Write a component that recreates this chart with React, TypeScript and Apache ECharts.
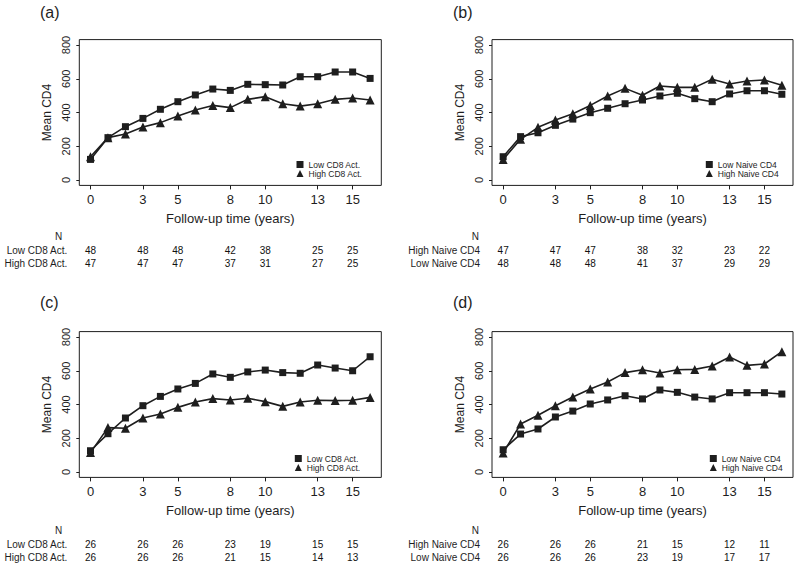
import React, { useEffect, useRef } from "react";
import * as echarts from "echarts";

// ---- data ----
const times = [0, 1, 2, 3, 4, 5, 6, 7, 8, 9, 10, 11, 12, 13, 14, 15, 16];
const xTicks = [0, 3, 5, 8, 10, 13, 15];
const yTicks = [0, 200, 400, 600, 800];
const nTimes = [0, 3, 5, 8, 10, 13, 15];

const aLowCD8 = [122, 251, 316, 365, 419, 464, 504, 539, 531, 567, 565, 563, 612, 612, 640, 640, 602];
const aHighCD8 = [138, 251, 273, 314, 340, 379, 415, 442, 429, 478, 494, 452, 438, 452, 478, 486, 474];
const bLowNaive = [138, 257, 280, 324, 361, 399, 425, 452, 474, 498, 514, 482, 464, 510, 529, 529, 508];
const bHighNaive = [122, 241, 312, 356, 393, 442, 498, 543, 502, 557, 549, 549, 597, 569, 587, 593, 561];
const cLowCD8 = [126, 227, 320, 393, 448, 492, 525, 581, 561, 593, 604, 589, 585, 634, 616, 600, 683];
const cHighCD8 = [115, 263, 259, 320, 344, 383, 415, 435, 427, 437, 417, 389, 415, 425, 423, 425, 442];
const dLowNaive = [132, 225, 255, 326, 361, 403, 427, 452, 433, 486, 472, 444, 433, 470, 470, 470, 462];
const dHighNaive = [113, 284, 336, 393, 444, 492, 533, 589, 606, 587, 606, 608, 628, 681, 632, 640, 713];

const aNLow = [48, 48, 48, 42, 38, 25, 25];
const aNHigh = [47, 47, 47, 37, 31, 27, 25];
const bNHigh = [47, 47, 47, 38, 32, 23, 22];
const bNLow = [48, 48, 48, 41, 37, 29, 29];
const cNLow = [26, 26, 26, 23, 19, 15, 15];
const cNHigh = [26, 26, 26, 21, 15, 14, 13];
const dNHigh = [26, 26, 26, 21, 15, 12, 11];
const dNLow = [26, 26, 26, 23, 19, 17, 17];

const lowCD8 = "Low CD8 Act.";
const highCD8 = "High CD8 Act.";
const lowNaive = "Low Naive CD4";
const highNaive = "High Naive CD4";

const FONT = "'Liberation Sans', Arial, Helvetica, sans-serif";
const INK = "#1e1e1e";

const panels = [
  {
    label: "(a)", labelX: 40, labelY: 13,
    left: 79.3, top: 39.6, width: 302, height: 145.8,
    squareName: lowCD8, square: aLowCD8, triName: highCD8, tri: aHighCD8,
    rows: [lowCD8, highCD8], rowVals: [aNLow, aNHigh], tableTop: 230,
    legendLeft: 296.5, legendTop: 160, nPad: 5,
  },
  {
    label: "(b)", labelX: 453, labelY: 13,
    left: 492, top: 39.6, width: 301, height: 145.8,
    squareName: lowNaive, square: bLowNaive, triName: highNaive, tri: bHighNaive,
    rows: [highNaive, lowNaive], rowVals: [bNHigh, bNLow], tableTop: 230,
    legendLeft: 705.8, legendTop: 160, nPad: 1,
  },
  {
    label: "(c)", labelX: 40, labelY: 303,
    left: 79.3, top: 331.6, width: 302, height: 145.8,
    squareName: lowCD8, square: cLowCD8, triName: highCD8, tri: cHighCD8,
    rows: [lowCD8, highCD8], rowVals: [cNLow, cNHigh], tableTop: 524,
    legendLeft: 294.8, legendTop: 454, nPad: 5,
  },
  {
    label: "(d)", labelX: 453, labelY: 303,
    left: 492, top: 331.6, width: 301, height: 145.8,
    squareName: lowNaive, square: dLowNaive, triName: highNaive, tri: dHighNaive,
    rows: [highNaive, lowNaive], rowVals: [dNHigh, dNLow], tableTop: 524,
    legendLeft: 709.8, legendTop: 454, nPad: 1,
  },
];

function buildOption() {
  const grid: any[] = [];
  const xAxis: any[] = [];
  const yAxis: any[] = [];
  const series: any[] = [];
  const legend: any[] = [];
  const graphic: any[] = [];

  panels.forEach((p, i) => {
    const gMain = 2 * i;
    const gTab = 2 * i + 1;
    grid.push({
      left: p.left, top: p.top, width: p.width, height: p.height,
      show: true, borderColor: INK, borderWidth: 1, backgroundColor: "transparent",
    });
    grid.push({ left: p.left, top: p.tableTop, width: p.width, height: 40 });

    xAxis.push({
      gridIndex: gMain, type: "value", min: -0.64, max: 16.64, position: "bottom",
      name: "Follow-up time (years)", nameLocation: "middle", nameGap: 27,
      nameTextStyle: { fontFamily: FONT, fontSize: 13, color: INK },
      axisLine: { show: false, onZero: false },
      axisTick: { show: true, length: 4, lineStyle: { color: INK }, customValues: xTicks },
      axisLabel: { show: true, margin: 8, fontFamily: FONT, fontSize: 13, color: INK, customValues: xTicks },
      splitLine: { show: false },
    });
    xAxis.push({ gridIndex: gTab, type: "value", min: -0.64, max: 16.64, show: false });

    yAxis.push({
      gridIndex: gMain, type: "value", min: -32, max: 832, position: "left",
      name: "Mean CD4", nameLocation: "middle", nameGap: 26,
      nameTextStyle: { fontFamily: FONT, fontSize: 12, color: INK },
      axisLine: { show: false, onZero: false },
      axisTick: { show: true, length: 3, lineStyle: { color: INK }, customValues: yTicks },
      axisLabel: { show: true, rotate: 90, margin: 8, fontFamily: FONT, fontSize: 11, color: INK, customValues: yTicks },
      splitLine: { show: false },
    });
    yAxis.push({
      gridIndex: gTab, type: "category", inverse: true,
      data: ["N", ...p.rows],
      axisLine: { show: false }, axisTick: { show: false }, splitLine: { show: false },
      axisLabel: {
        show: true, margin: 12, fontFamily: FONT, fontSize: 10, color: INK,
        formatter: (v: string) => (v === "N" ? "{n|N}" : v),
        rich: { n: { fontFamily: FONT, fontSize: 10, color: INK, padding: [0, p.nPad, 0, 0] } },
      },
    });

    series.push({
      type: "line", name: p.squareName, xAxisIndex: gMain, yAxisIndex: gMain,
      data: times.map((t, k) => [t, p.square[k]]),
      symbol: "rect", symbolSize: 7, showAllSymbol: true,
      lineStyle: { color: INK, width: 1.6 }, itemStyle: { color: INK },
      silent: true, z: 3,
    });
    series.push({
      type: "line", name: p.triName, xAxisIndex: gMain, yAxisIndex: gMain,
      data: times.map((t, k) => [t, p.tri[k]]),
      symbol: "triangle", symbolSize: 9, showAllSymbol: true,
      lineStyle: { color: INK, width: 1.6 }, itemStyle: { color: INK },
      silent: true, z: 3,
    });

    p.rowVals.forEach((vals, r) => {
      series.push({
        type: "scatter", xAxisIndex: gTab, yAxisIndex: gTab,
        data: nTimes.map((t, k) => [t, r + 1, vals[k]]),
        symbolSize: 1, itemStyle: { color: "rgba(255,255,255,0)" }, silent: true,
        label: {
          show: true, position: "inside", fontFamily: FONT, fontSize: 10, color: "#111111",
          textBorderWidth: 0, opacity: 1,
          formatter: (q: any) => String(q.value[2]),
        },
      });
    });

    legend.push({
      orient: "vertical", left: p.legendLeft, top: p.legendTop,
      itemWidth: 7, itemHeight: 7, itemGap: 0, padding: 0,
      selectedMode: false,
      textStyle: { fontFamily: FONT, fontSize: 8.5, color: INK },
      data: [
        { name: p.squareName, icon: "rect", itemStyle: { color: INK } },
        { name: p.triName, icon: "triangle", itemStyle: { color: INK } },
      ],
    });

    graphic.push({
      type: "text", left: p.labelX, top: p.labelY - 9,
      style: { text: p.label, fontFamily: FONT, fontSize: 16, fill: INK },
    });
  });

  return {
    animation: false,
    backgroundColor: "#ffffff",
    grid, xAxis, yAxis, series, legend, graphic,
  };
}

export default function App() {
  const ref = useRef<HTMLDivElement>(null);
  useEffect(() => {
    document.body.style.margin = "0";
    const chart = echarts.init(ref.current as HTMLDivElement, null, { renderer: "svg" });
    chart.setOption(buildOption());
    return () => chart.dispose();
  }, []);
  return <div ref={ref} style={{ width: 800, height: 569 }} />;
}
